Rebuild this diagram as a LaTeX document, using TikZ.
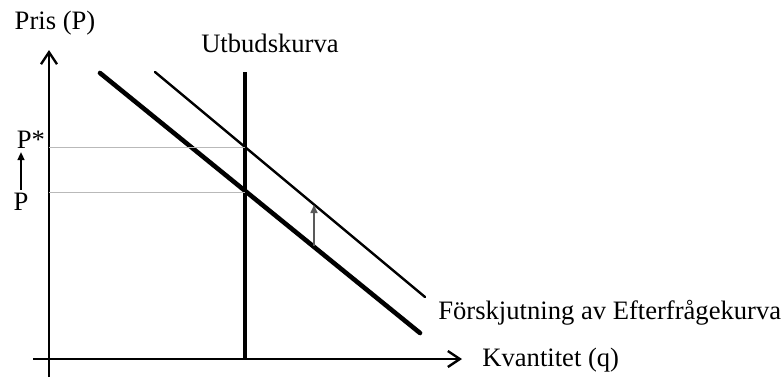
\documentclass[tikz,border=0pt]{standalone}
\usepackage{fontspec}
\setmainfont{Liberation Serif}
\usetikzlibrary{arrows.meta, positioning}

\begin{document}
\begin{tikzpicture}[
      x=0.5pt, y=0.5pt,
      lbl/.style={font=\fontsize{13.3}{16}\selectfont, inner sep=0pt},
      axis/.style={line width=1.3pt, -{Straight Barb[length=6pt, width=8pt, line width=1.2pt]}},
      demand/.style={line width=2.3pt, line cap=round},
      shifted/.style={line width=1.2pt, line cap=round},
      supply/.style={line width=2pt},
      guide/.style={gray!55, line width=0.5pt},
      shiftarrow/.style={gray!70!black, line width=0.8pt, -{Triangle[length=4pt, width=3.5pt]}},
  ]
    \useasboundingbox (0,0) rectangle (782,377);

    % axes
    \coordinate (xstart) at (33,18);
    \coordinate (xend)   at (462,18);
    \coordinate (ybot)   at (49,0);
    \coordinate (ytop)   at (49,327);
    \draw[axis] (xstart) -- (xend);
    \draw[axis] (ybot) -- (ytop);

    % supply and demand
    \coordinate (stop) at (245,305);
    \coordinate (sbot) at (245,18);
    \coordinate (dia)  at (100,304);
    \coordinate (dib)  at (420,44);
    \coordinate (dsa)  at (155,305);
    \coordinate (dsb)  at (425,80);
    \draw[supply]  (stop) -- (sbot);
    \draw[demand]  (dia) -- (dib);
    \draw[shifted] (dsa) -- (dsb);

    % equilibrium prices
    \coordinate (E)     at (245,185);
    \coordinate (Estar) at (245,230);
    \coordinate (pold)  at (49,185);
    \coordinate (pnew)  at (49,230);
    \draw[guide] (pold) -- (E);
    \draw[guide] (pnew) -- (Estar);

    % shift of the demand curve
    \coordinate (shlow)  at (314,131);
    \coordinate (shhigh) at (314,172);
    \draw[shiftarrow] (shlow) -- (shhigh);

    % labels
    \node[lbl] (pris)  at (55,354)  {Pris (P)};
    \node[lbl] (utbud) at (270,334) {Utbudskurva};
    \node[lbl] (pstarlbl) at (31,237) {P*};
    \node[lbl] (plbl)     at (21,175) {P};
    \node[lbl, anchor=west] (forsk) at (438,64) {Förskjutning av Efterfrågekurva};
    \node[lbl, anchor=west] (kvant) at (482,17) {Kvantitet (q)};

    \draw[shiftarrow, draw=black, fill=black] ([yshift=1.5pt]plbl.north) -- ([yshift=-1.5pt]plbl.north |- pstarlbl.south);

  \end{tikzpicture}
\end{document}
